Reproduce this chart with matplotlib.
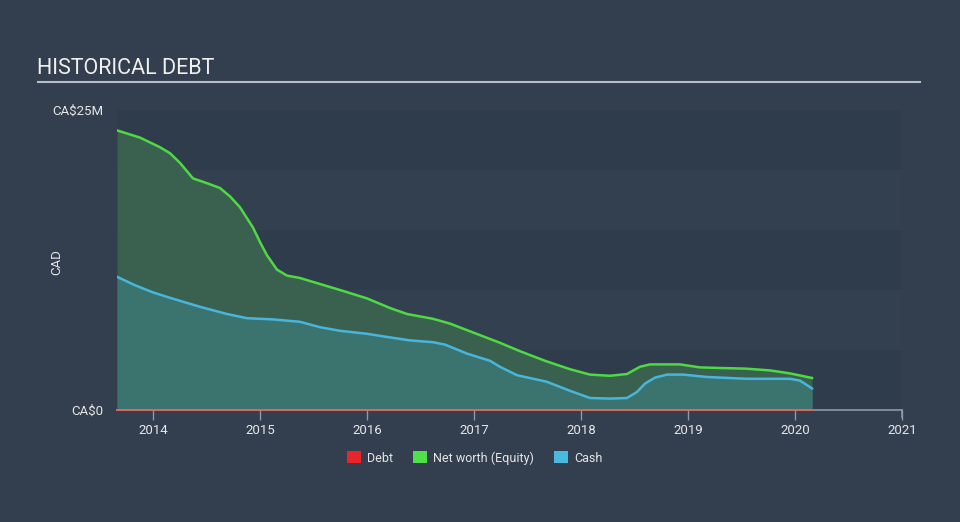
import matplotlib
matplotlib.use("Agg")
import matplotlib.pyplot as plt
import numpy as np
from matplotlib.patches import Patch

plt.rcParams['font.family'] = ['Roboto', 'DejaVu Sans']

# Net worth (Equity), CA$ millions
equity_dates = [2013.664, 2013.879, 2014.065, 2014.159, 2014.252, 2014.374, 2014.505,
                2014.626, 2014.72, 2014.813, 2014.935, 2015.0, 2015.065, 2015.159,
                2015.252, 2015.374, 2015.561, 2015.748, 2016.0, 2016.215, 2016.374,
                2016.617, 2016.776, 2017.009, 2017.243, 2017.43, 2017.664, 2017.897,
                2018.084, 2018.271, 2018.43, 2018.551, 2018.645, 2018.925, 2019.112,
                2019.299, 2019.533, 2019.766, 2019.953, 2020.159]
equity_vals = [23.3, 22.7, 21.9, 21.4, 20.6, 19.3, 18.9,
               18.5, 17.8, 16.9, 15.2, 14.0, 12.9, 11.7,
               11.2, 11.0, 10.5, 10.0, 9.3, 8.5, 8.0,
               7.6, 7.2, 6.4, 5.6, 4.9, 4.1, 3.4,
               2.95, 2.85, 3.0, 3.6, 3.8, 3.8, 3.55,
               3.5, 3.45, 3.3, 3.05, 2.67]

# Cash, CA$ millions
cash_dates = [2013.664, 2013.832, 2014.0, 2014.159, 2014.439, 2014.692, 2014.879,
              2015.121, 2015.374, 2015.561, 2015.748, 2016.0, 2016.215, 2016.402,
              2016.617, 2016.729, 2016.935, 2017.15, 2017.243, 2017.402, 2017.682,
              2017.897, 2018.084, 2018.271, 2018.43, 2018.523, 2018.598, 2018.692,
              2018.804, 2018.953, 2019.178, 2019.551, 2019.953, 2020.047, 2020.159]
cash_vals = [11.1, 10.4, 9.8, 9.35, 8.6, 8.0, 7.65,
             7.55, 7.35, 6.9, 6.6, 6.35, 6.05, 5.8,
             5.65, 5.45, 4.7, 4.1, 3.6, 2.9, 2.35,
             1.6, 1.0, 0.95, 1.0, 1.5, 2.2, 2.7,
             2.95, 2.95, 2.75, 2.6, 2.6, 2.45, 1.8]

# Debt (zero throughout)
debt_dates = [2013.664, 2020.159]
debt_vals = [0.0, 0.0]

year_ticks = [2014, 2015, 2016, 2017, 2018, 2019, 2020, 2021]
y_ticks = [0, 25]
y_tick_labels = ['CA$0', 'CA$25M']

BG = '#333f4e'
fig = plt.figure(figsize=(9.6, 5.22), dpi=100, facecolor=BG)
ax = fig.add_axes([117/960, 112/522, 785/960, 300/522])
ax.set_facecolor('#2f3c4c')

x0, x1 = 2013.664, 2021.0
ax.set_xlim(x0, x1)
ax.set_ylim(0, 25)

# alternating bands
for i, lo in enumerate(range(0, 25, 5)):
    col = '#2f3c4c' if i % 2 == 0 else '#334050'
    ax.axhspan(lo, lo + 5, color=col, lw=0, zorder=0)

GREEN = '#4fd943'
CYAN = '#48b6dc'
ax.fill_between(equity_dates, equity_vals, color='#3a6150', lw=0, zorder=1)
ax.fill_between(cash_dates, cash_vals, color='#3b736f', lw=0, zorder=2)
ax.plot(equity_dates, equity_vals, color=GREEN, lw=1.8, zorder=3, solid_joinstyle='round')
ax.plot(cash_dates, cash_vals, color=CYAN, lw=1.8, zorder=4, solid_joinstyle='round')

for s in ['top', 'left', 'right']:
    ax.spines[s].set_visible(False)
ax.spines['bottom'].set_color('#8e99a8')
ax.spines['bottom'].set_linewidth(1.2)
ax.plot(debt_dates, debt_vals, color='#d9675c', lw=1.4, zorder=7, clip_on=False)

ax.set_xticks(year_ticks)
ax.set_xticklabels([str(y) for y in year_ticks])
ax.tick_params(axis='x', colors='#8e99a8', length=7, width=1, labelcolor='#e6e6e6',
               labelsize=9.5, pad=3)
ax.set_yticks(y_ticks)
ax.set_yticklabels(y_tick_labels)
ax.tick_params(axis='y', length=0, labelcolor='#e6e6e6', labelsize=9.5, pad=10)
# right end tick
ax.plot([x1, x1], [0, -0.6], color='#8e99a8', lw=1.2, clip_on=False, zorder=6)

fig.text(57/960, 1 - 262/522, 'CAD', color='#e6e6e6', fontsize=9.5,
         rotation=90, va='center', ha='center')

# Title and underline
fig.text(37/960, 1 - 69/522, 'HISTORICAL DEBT', color='#f0f0f0', fontsize=15.5,
         va='center', ha='left')
fig.add_artist(plt.Line2D([38/960, 920/960], [1 - 82/522, 1 - 82/522],
                          color='#b8bec6', lw=1.5))

# Legend
handles = [Patch(facecolor='#e8262a', label='Debt'),
           Patch(facecolor='#4fe04a', label='Net worth (Equity)'),
           Patch(facecolor='#48b9e0', label='Cash')]
fig.legend(handles=handles, loc='center', bbox_to_anchor=(475/960, 1 - 458/522),
           ncol=3, frameon=False, fontsize=9, labelcolor='#e6e6e6',
           handlelength=1.1, handleheight=1.1, handletextpad=0.5, columnspacing=1.6)

fig.savefig('out.png', dpi=100, facecolor=BG)
